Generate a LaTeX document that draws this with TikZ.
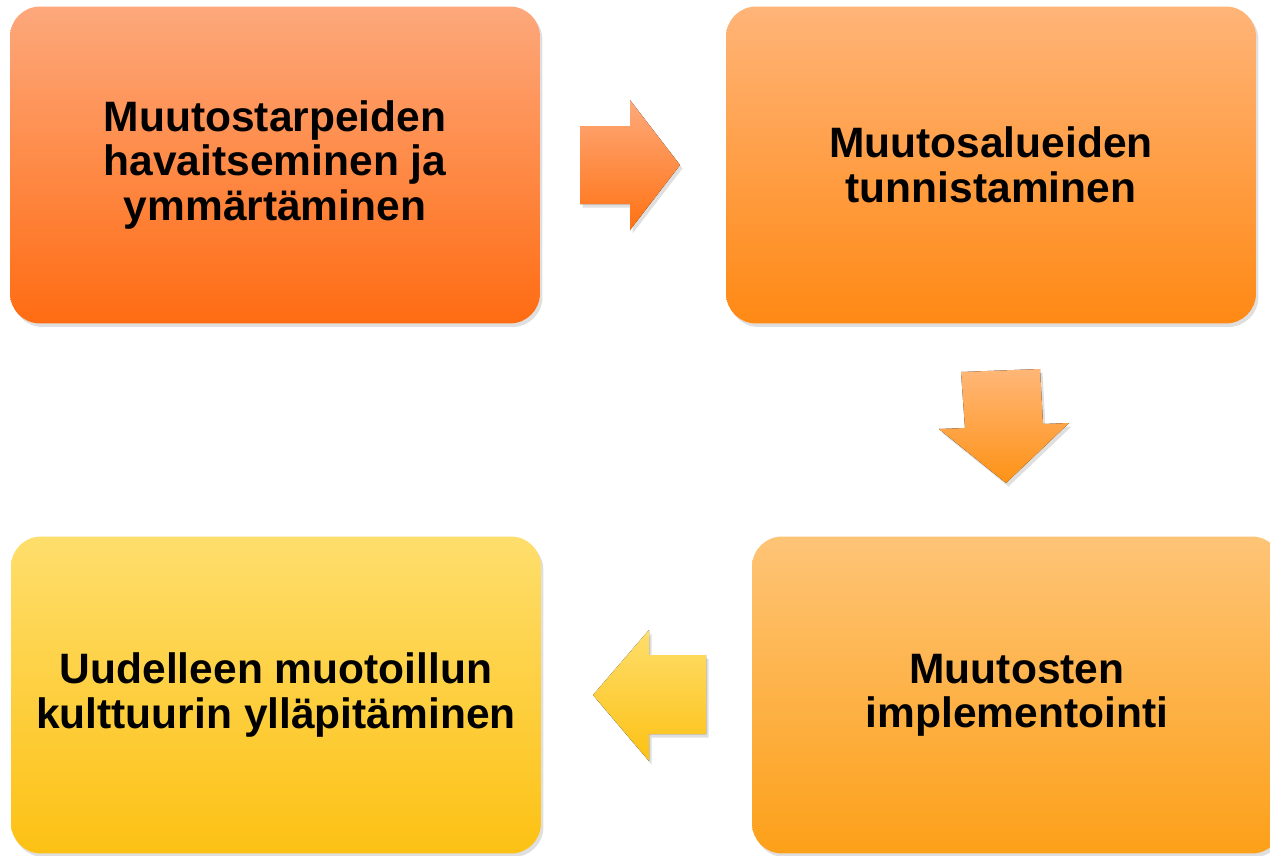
\documentclass[tikz,border=0pt]{standalone}
\usepackage{fontspec}
\setmainfont{Liberation Sans}
\usetikzlibrary{shadows}

\definecolor{tarveTop}{HTML}{FDA87C}
\definecolor{tarveBot}{HTML}{FF6C12}
\definecolor{alueTop}{HTML}{FFB478}
\definecolor{alueBot}{HTML}{FF8914}
\definecolor{implTop}{HTML}{FEC476}
\definecolor{implBot}{HTML}{FDA019}
\definecolor{kultTop}{HTML}{FEDE6C}
\definecolor{kultBot}{HTML}{FDC114}

\tikzset{
	stagebox/.style={rectangle, rounded corners=0.6cm, minimum width=10.6cm, minimum height=6.34cm,
		align=center, font=\bfseries\fontsize{24.2}{25.3}\selectfont,
		drop shadow={opacity=0.25, shadow xshift=0.05cm, shadow yshift=-0.07cm}},
	blockarrow/.style={drop shadow={opacity=0.25, shadow xshift=0.05cm, shadow yshift=-0.07cm}}
}

\begin{document}
\begin{tikzpicture}[x=0.02cm, y=-0.02cm]
				\useasboundingbox (0,0) rectangle (1270,855);
				
				\node[stagebox, top color=tarveTop, bottom color=tarveBot] (tarve) at (275,165) {Muutostarpeiden\\havaitseminen ja\\ymmärtäminen};
				\node[stagebox, top color=alueTop, bottom color=alueBot] (alue) at (991,165) {Muutosalueiden\\tunnistaminen};
				\node[stagebox, top color=implTop, bottom color=implBot] (impl) at (1017,695) {Muutosten\\implementointi};
				\node[stagebox, top color=kultTop, bottom color=kultBot] (kulttuuri) at (276,695) {Uudelleen muotoillun\\kulttuurin ylläpitäminen};
				
				\fill[blockarrow, top color=tarveTop!90!alueTop, bottom color=tarveBot!80!alueBot] (580,126) -- (630,126) -- (630,100) -- (680,165) -- (630,230) -- (630,204) -- (580,204) -- cycle;
				\fill[blockarrow, top color=alueTop!85!implTop, bottom color=alueBot!60!implBot] (961,372) -- (1040,369) -- (1043,424) -- (1069,423) -- (1006,483) -- (939,429) -- (965,428) -- cycle;
				\fill[blockarrow, top color=kultTop, bottom color=kultBot] (706,655) -- (649,655) -- (649,630) -- (593,695) -- (649,761) -- (649,734) -- (706,734) -- cycle;
			\end{tikzpicture}
\end{document}
